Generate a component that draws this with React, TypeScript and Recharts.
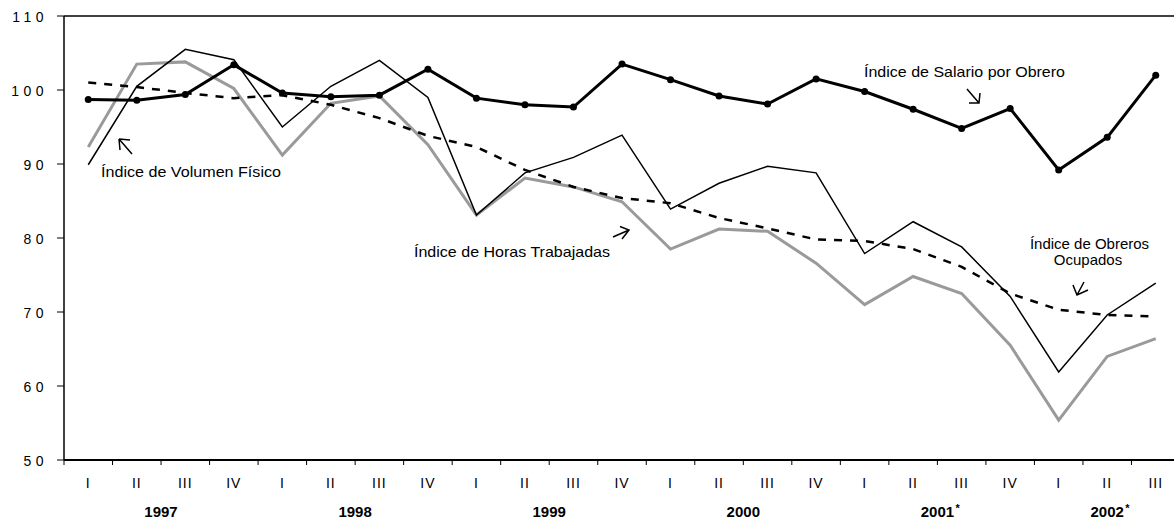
import React from "react"
import { LineChart, Line, XAxis, YAxis, ReferenceLine } from "recharts"

const FONT = "'Liberation Sans', Arial, sans-serif"

const quarters = [
  "I", "II", "III", "IV",
  "I", "II", "III", "IV",
  "I", "II", "III", "IV",
  "I", "II", "III", "IV",
  "I", "II", "III", "IV",
  "I", "II", "III"
]

// year label and where it sits on the quarter index axis
const years = [
  { label: "1997", at: 1.5, star: false },
  { label: "1998", at: 5.5, star: false },
  { label: "1999", at: 9.5, star: false },
  { label: "2000", at: 13.5, star: false },
  { label: "2001", at: 17.5, star: true },
  { label: "2002", at: 21, star: true }
]

const salario = [
  98.7, 98.6, 99.4, 103.4, 99.6, 99.1, 99.3, 102.8, 98.9, 98.0, 97.7, 103.5,
  101.4, 99.2, 98.1, 101.5, 99.8, 97.4, 94.8, 97.5, 89.2, 93.6, 102.0
]
const volumen = [
  89.9, 100.5, 105.5, 104.1, 95.0, 100.5, 104.0, 99.0, 83.1, 88.8, 90.9, 93.9,
  83.9, 87.4, 89.7, 88.8, 77.9, 82.2, 78.8, 72.1, 61.9, 69.6, 73.9
]
const horas = [
  92.3, 103.5, 103.8, 100.2, 91.2, 98.2, 99.2, 92.6, 83.1, 88.1, 86.9, 84.9,
  78.5, 81.2, 80.9, 76.6, 71.0, 74.8, 72.5, 65.5, 55.4, 64.0, 66.4
]
const obreros = [
  101.0, 100.4, 99.6, 98.9, 99.3, 98.0, 96.2, 93.8, 92.3, 89.2, 86.9, 85.4,
  84.7, 82.7, 81.3, 79.8, 79.6, 78.5, 76.1, 72.5, 70.3, 69.6, 69.4
]

const yTicks = [50, 60, 70, 80, 90, 100, 110]

const data = quarters.map((q, i) => ({
  idx: i,
  q,
  salario: salario[i],
  volumen: volumen[i],
  horas: horas[i],
  obreros: obreros[i]
}))

// labels on whole numbers, boundary marks on the halves
const xTicks: number[] = []
for (let k = -1; k <= 45; k++) xTicks.push(k / 2)

const YTick = (props: any) => {
  const { x, y, payload } = props
  return (
    <text x={x + 4} y={y} dy={5.5} textAnchor="end" fontSize={14} letterSpacing={4.5} fill="#000" fontFamily={FONT}>
      {payload.value}
    </text>
  )
}

const XTick = (props: any) => {
  const { x, y, payload } = props
  const v = payload.value
  const year = years.find(yr => yr.at === v)
  return (
    <g>
      {Number.isInteger(v) ? (
        <text x={x} y={y + 28} textAnchor="middle" fontSize={14} letterSpacing={1} fill="#000" fontFamily={FONT}>
          {quarters[v]}
        </text>
      ) : (
        <line x1={x} x2={x} y1={y} y2={y + 5} stroke="#000" strokeWidth={1} />
      )}
      {year && (
        <g>
          <text x={x} y={y + 57} textAnchor="middle" fontSize={15} fontWeight="bold" fill="#000" fontFamily={FONT}>
            {year.label}
          </text>
          {year.star && (
            <text x={x + 18} y={y + 52} textAnchor="start" fontSize={11} fontWeight="bold" fill="#000" fontFamily={FONT}>
              *
            </text>
          )}
        </g>
      )}
    </g>
  )
}

const labelStyle = { fontSize: 15, fill: "#000", fontFamily: FONT }

export default function App() {
  return (
    <div style={{ position: "absolute", left: 0, top: 0, width: 1174, height: 521, overflow: "hidden", background: "#fff" }}>
      <LineChart width={1180} height={521} data={data} margin={{ top: 16, right: 0, bottom: 0, left: 0 }}>
        <XAxis
          dataKey="idx"
          type="number"
          domain={[-0.5, 22.5]}
          ticks={xTicks}
          interval={0}
          height={61}
          tickSize={0}
          tickMargin={0}
          tickLine={false}
          tick={<XTick />}
          axisLine={{ stroke: "#000", strokeWidth: 2 }}
        />
        <YAxis
          type="number"
          domain={[50, 110]}
          ticks={yTicks}
          interval={0}
          width={64}
          tickSize={7}
          tickMargin={13}
          tick={<YTick />}
          tickLine={{ stroke: "#000", strokeWidth: 1 }}
          axisLine={{ stroke: "#000", strokeWidth: 1.5 }}
        />
        <ReferenceLine y={110} stroke="#000" strokeWidth={1.5} />
        <Line dataKey="horas" stroke="#9a9a9a" strokeWidth={3} dot={false} activeDot={false} isAnimationActive={false} />
        <Line dataKey="volumen" stroke="#000" strokeWidth={1.5} dot={false} activeDot={false} isAnimationActive={false} />
        <Line dataKey="obreros" stroke="#000" strokeWidth={2.5} strokeDasharray="8 8" dot={false} activeDot={false} isAnimationActive={false} />
        <Line
          dataKey="salario"
          stroke="#000"
          strokeWidth={3}
          dot={{ r: 3.5, fill: "#000", stroke: "#000", strokeWidth: 0 }}
          activeDot={false}
          isAnimationActive={false}
        />
      </LineChart>
      <svg width={1174} height={521} style={{ position: "absolute", left: 0, top: 0, pointerEvents: "none" }}>
        <text x={101} y={177} textLength={180} lengthAdjust="spacingAndGlyphs" {...labelStyle}>Índice de Volumen Físico</text>
        <path d="M132,154 L119,139 M119,139 L130,140 M119,139 L120,150" stroke="#000" strokeWidth={1.5} fill="none" />

        <text x={414} y={257} textLength={196} lengthAdjust="spacingAndGlyphs" {...labelStyle}>Índice de Horas Trabajadas</text>
        <path d="M613,237 L629,230 M620,226.5 L629,230 L622,239" stroke="#000" strokeWidth={1.5} fill="none" />

        <text x={864} y={76.5} textLength={201} lengthAdjust="spacingAndGlyphs" {...labelStyle}>Índice de Salario por Obrero</text>
        <path d="M967,89 L979,103 M969,103 L979,103 L980,93" stroke="#000" strokeWidth={1.5} fill="none" />

        <text x={1089.5} y={249} textAnchor="middle" {...labelStyle}>Índice de Obreros</text>
        <text x={1088} y={265} textAnchor="middle" {...labelStyle}>Ocupados</text>
        <path d="M1084,282 L1077,295 M1073,285 L1077,295 L1088,290" stroke="#000" strokeWidth={1.5} fill="none" />
      </svg>
    </div>
  )
}
